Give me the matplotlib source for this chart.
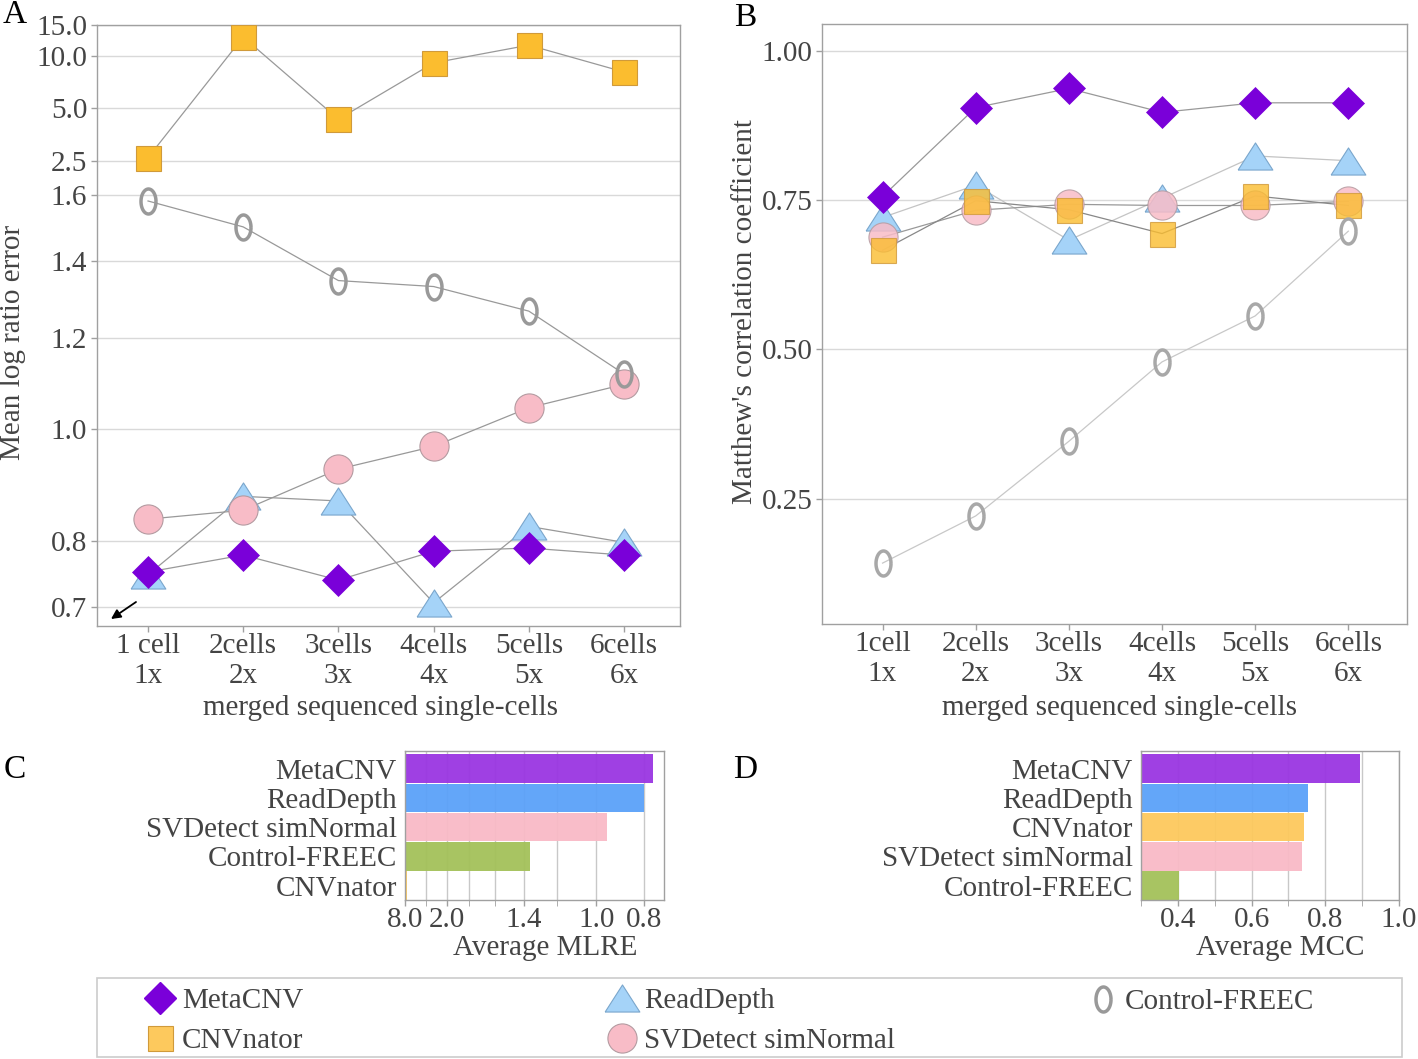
import numpy as np
import matplotlib
matplotlib.use('Agg')
import matplotlib.pyplot as plt
from matplotlib.lines import Line2D
from matplotlib.patches import Rectangle

plt.rcParams['font.family'] = ['Liberation Serif', 'DejaVu Serif']

# ---------------- data ----------------
merges = [1, 2, 3, 4, 5, 6]
labels_A = ['1 cell\n1x', '2cells\n2x', '3cells\n3x', '4cells\n4x', '5cells\n5x', '6cells\n6x']
labels_B = ['1cell\n1x', '2cells\n2x', '3cells\n3x', '4cells\n4x', '5cells\n5x', '6cells\n6x']

mlre_metacnv = [0.751, 0.777, 0.739, 0.783, 0.788, 0.777]
mlre_readdepth = [0.747, 0.874, 0.866, 0.706, 0.823, 0.797]
mlre_svdetect = [0.835, 0.850, 0.923, 0.966, 1.044, 1.094]
mlre_freec = [1.58, 1.50, 1.347, 1.331, 1.267, 1.117]
mlre_cnvnator = [2.61, 12.8, 4.33, 9.1, 11.5, 8.07]

mcc_metacnv = [0.756, 0.905, 0.937, 0.897, 0.913, 0.913]
mcc_readdepth = [0.721, 0.775, 0.683, 0.753, 0.824, 0.816]
mcc_svdetect = [0.688, 0.733, 0.743, 0.741, 0.741, 0.748]
mcc_cnvnator = [0.666, 0.749, 0.734, 0.694, 0.757, 0.741]
mcc_freec = [0.142, 0.221, 0.346, 0.479, 0.556, 0.698]

avg_mlre_tools = ['MetaCNV', 'ReadDepth', 'SVDetect simNormal', 'Control-FREEC', 'CNVnator']
avg_mlre = [0.768, 0.800, 0.951, 1.36, 7.5]
avg_mcc_tools = ['MetaCNV', 'ReadDepth', 'CNVnator', 'SVDetect simNormal', 'Control-FREEC']
avg_mcc = [0.894, 0.752, 0.742, 0.738, 0.404]

yticks_A = [0.7, 0.8, 1.0, 1.2, 1.4, 1.6, 2.5, 5.0, 10.0, 15.0]
yticks_B = [0.25, 0.50, 0.75, 1.00]
xticks_C = [8.0, 2.0, 1.4, 1.0, 0.8]
xminor_C = [4.0, 1.8, 1.6, 1.2]
xticks_D = [0.4, 0.6, 0.8, 1.0]
xminor_D = [0.3, 0.5, 0.7, 0.9]

# ---------------- styles ----------------
C_META = '#7a00d9'
C_RD = '#a5d3f8'
C_RD_E = '#7aa6cc'
C_SV = '#f8bcc7'
C_SV_E = '#b49ba1'
C_CNV = '#fbbd2f'
C_CNV_E = '#d09a3a'
C_FREEC = '#999999'
BAR_COLORS = {'MetaCNV': '#9a35e2', 'ReadDepth': '#5ba1f9', 'SVDetect simNormal': '#f9bac6',
              'Control-FREEC': '#a3c159', 'CNVnator': '#fdc95d'}
TXT = '#444444'
GRID = '#d9d9d9'
SPINE = '#a0a0a0'
FS = 21

tri = [(-1, -0.78), (1, -0.78), (0, 0.78), (-1, -0.78)]
_th = np.linspace(0, 2 * np.pi, 60)
zero = list(zip(0.6 * np.cos(_th), np.sin(_th)))
ZKW = dict(ls='none', marker=zero, ms=18, mfc='none', mew=2.5)

W, H = 1418, 1059
fig = plt.figure(figsize=(W / 100, H / 100), dpi=100)


def ax_px(l, t, r, b):
    return fig.add_axes([l / W, 1 - b / H, (r - l) / W, (b - t) / H])


def piecewise_log(brk, lo, hi):
    def fwd(v):
        v = np.maximum(np.asarray(v, dtype=float), 1e-6)
        r = np.log(v / brk)
        return np.where(r <= 0, lo * r, hi * r)

    def inv(t):
        t = np.asarray(t, dtype=float)
        return brk * np.exp(np.where(t <= 0, t / lo, t / hi))
    return fwd, inv


def style_axes(ax):
    for s in ax.spines.values():
        s.set_color(SPINE)
        s.set_linewidth(1.0)
    ax.tick_params(colors=SPINE, labelcolor=TXT, labelsize=FS, length=4, width=1, pad=3)


# ---------------- Panel A ----------------
axA = ax_px(97, 25, 680, 626)
fA, iA = piecewise_log(1.6, 500.0, 76.0)
axA.set_yscale('function', functions=(fA, iA))
axA.set_ylim(0.674, 15.0)
axA.set_xlim(0.464, 6.588)
axA.set_yticks(yticks_A)
axA.set_yticklabels(['%.1f' % v for v in yticks_A])
axA.yaxis.set_minor_locator(matplotlib.ticker.NullLocator())
axA.set_xticks(merges)
axA.set_xticklabels(labels_A, linespacing=1.2)
axA.grid(axis='y', color=GRID, lw=1.0)
axA.set_axisbelow(True)
style_axes(axA)
axA.tick_params(axis='x', pad=1)

lkw = dict(color='#999999', lw=0.9, zorder=2)
axA.plot(merges, mlre_readdepth, **lkw)
axA.plot(merges, mlre_svdetect, **lkw)
axA.plot(merges, mlre_metacnv, **lkw)
axA.plot(merges, mlre_cnvnator, **lkw)
axA.plot(merges, mlre_freec, **lkw)
axA.plot(merges, mlre_readdepth, ls='none', marker=tri, ms=25, mfc=C_RD, mec=C_RD_E, mew=0.8, zorder=3)
axA.plot(merges, mlre_svdetect, ls='none', marker='o', ms=21, mfc=C_SV, mec=C_SV_E, mew=0.8, zorder=4)
axA.plot(merges, mlre_metacnv, ls='none', marker='D', ms=16.5, mfc=C_META, mec=C_META, mew=0.5, zorder=5)
axA.plot(merges, mlre_cnvnator, ls='none', marker='s', ms=18, mfc=C_CNV, mec=C_CNV_E, mew=0.8, zorder=5)
axA.plot(merges, mlre_freec, mec=C_FREEC, zorder=6, **ZKW)

axA.set_ylabel('Mean log ratio error', fontsize=FS, color=TXT)
axA.yaxis.set_label_coords(-0.144, 0.471)
axA.yaxis.label.set_va('center')
axA.set_xlabel('merged sequenced single-cells', fontsize=FS, color=TXT)
axA.xaxis.set_label_coords(0.487, -0.137)
axA.xaxis.label.set_va('center')

# ---------------- Panel B ----------------
axB = ax_px(822, 24, 1407, 624)
axB.set_ylim(0.04, 1.045)
axB.set_xlim(0.35, 6.63)
axB.set_yticks(yticks_B)
axB.set_yticklabels(['%.2f' % v for v in yticks_B])
axB.set_xticks(merges)
axB.set_xticklabels(labels_B, linespacing=1.2)
axB.grid(axis='y', color=GRID, lw=1.0)
axB.set_axisbelow(True)
style_axes(axB)
axB.tick_params(axis='x', pad=1)

axB.plot(merges, mcc_readdepth, color='#c4c4c4', lw=0.9, zorder=2)
axB.plot(merges, mcc_svdetect, color='#999999', lw=0.9, zorder=2)
axB.plot(merges, mcc_metacnv, color='#999999', lw=0.9, zorder=2)
axB.plot(merges, mcc_cnvnator, color='#888888', lw=0.9, zorder=2)
axB.plot(merges, mcc_freec, color='#c8c8c8', lw=0.9, zorder=2)
axB.plot(merges, mcc_readdepth, ls='none', marker=tri, ms=25, mfc=C_RD, mec=C_RD_E, mew=0.8, zorder=3)
axB.plot(merges, mcc_svdetect, ls='none', marker='o', ms=21, mfc=C_SV, mec=C_SV_E, mew=0.8, alpha=0.85, zorder=4)
axB.plot(merges, mcc_cnvnator, ls='none', marker='s', ms=18, mfc=C_CNV, mec=C_CNV_E, mew=0.8, alpha=0.8, zorder=5)
axB.plot(merges, mcc_metacnv, ls='none', marker='D', ms=16.5, mfc=C_META, mec=C_META, mew=0.5, zorder=5)
axB.plot(merges, mcc_freec, mec='#a8a8a8', zorder=6, **ZKW)

axB.set_ylabel("Matthew's correlation coefficient", fontsize=FS, color=TXT)
axB.yaxis.set_label_coords(-0.132, 0.52)
axB.yaxis.label.set_va('center')
axB.set_xlabel('merged sequenced single-cells', fontsize=FS, color=TXT)
axB.xaxis.set_label_coords(0.509, -0.14)
axB.xaxis.label.set_va('center')

# ---------------- Panel C ----------------
axC = ax_px(405, 751, 664, 900)
fC, iC = piecewise_log(2.0, 215.0, 30.0)
axC.set_xscale('function', functions=(fC, iC))
c_left, c_right = 8.0, 0.73
axC.set_xlim(c_left, c_right)
ypos_C = np.arange(len(avg_mlre_tools))
axC.barh(ypos_C, np.array(avg_mlre) - c_left, left=c_left, height=0.97,
         color=[BAR_COLORS[t] for t in avg_mlre_tools], alpha=0.95, zorder=2)
axC.set_ylim(4.49, -0.6)
axC.set_yticks(ypos_C)
axC.set_yticklabels(avg_mlre_tools)
axC.set_xticks(xticks_C)
axC.set_xticklabels(['%.1f' % v for v in xticks_C])
axC.set_xticks(xminor_C, minor=True)
axC.grid(axis='x', which='both', color='#c8c8c8', lw=1.0, zorder=3)
style_axes(axC)
axC.tick_params(axis='y', length=0, pad=6)
axC.tick_params(axis='x', which='both', length=4, color=SPINE, pad=1)
axC.set_xlabel('Average MLRE', fontsize=FS, color=TXT)
axC.xaxis.set_label_coords(0.54, -0.325)
axC.xaxis.label.set_va('center')

# ---------------- Panel D ----------------
axD = ax_px(1141, 751, 1399, 900)
d_left = 0.3
axD.set_xlim(d_left, 1.0)
ypos_D = np.arange(len(avg_mcc_tools))
axD.barh(ypos_D, np.array(avg_mcc) - d_left, left=d_left, height=0.97,
         color=[BAR_COLORS[t] for t in avg_mcc_tools], alpha=0.95, zorder=2)
axD.set_ylim(4.49, -0.6)
axD.set_yticks(ypos_D)
axD.set_yticklabels(avg_mcc_tools)
axD.set_xticks(xticks_D)
axD.set_xticklabels(['%.1f' % v for v in xticks_D])
axD.set_xticks(xminor_D, minor=True)
axD.grid(axis='x', which='both', color='#c8c8c8', lw=1.0, zorder=3)
style_axes(axD)
axD.tick_params(axis='y', length=0, pad=6)
axD.tick_params(axis='x', which='both', length=4, color=SPINE, pad=1)
axD.set_xlabel('Average MCC', fontsize=FS, color=TXT)
axD.xaxis.set_label_coords(0.54, -0.325)
axD.xaxis.label.set_va('center')

# ---------------- panel letters ----------------
for lab, (px, py) in {'A': (15, 15), 'B': (745, 18), 'C': (15, 770), 'D': (745, 770)}.items():
    fig.text(px / W, 1 - py / H, lab, fontsize=24, color='black', ha='center', va='center')

# ---------------- arrows ----------------
def fig_arrow(x0, y0, x1, y1):
    axA.annotate('', xy=(x1 / W, 1 - y1 / H), xytext=(x0 / W, 1 - y0 / H),
                 xycoords='figure fraction', textcoords='figure fraction',
                 arrowprops=dict(arrowstyle='-|>', color='black', lw=1.3,
                                 mutation_scale=14, shrinkA=0, shrinkB=0),
                 annotation_clip=False)

fig_arrow(136, 602, 111, 619)
fig_arrow(853, 80, 826, 57)

# ---------------- legend ----------------
h_meta = Line2D([], [], ls='none', marker='D', ms=16.5, mfc=C_META, mec=C_META)
h_cnv = Line2D([], [], ls='none', marker='s', ms=18, mfc='#fdc95d', mec=C_CNV_E, mew=0.8)
h_rd = Line2D([], [], ls='none', marker=tri, ms=25, mfc=C_RD, mec=C_RD_E, mew=0.8)
h_sv = Line2D([], [], ls='none', marker='o', ms=21, mfc=C_SV, mec=C_SV_E, mew=0.8)
h_fr = Line2D([], [], mec=C_FREEC, **ZKW)

fig.patches.append(Rectangle((97 / W, 1 - 1057 / H), 1305 / W, 79 / H, transform=fig.transFigure,
                             fill=False, edgecolor='#cccccc', lw=1.2))
LKW = dict(frameon=False, fontsize=FS, handletextpad=0.2, handlelength=1.1,
           labelspacing=0.45, borderpad=0.0, borderaxespad=0, loc='center left')
legs = [
    fig.legend([h_meta, h_cnv], ['MetaCNV', 'CNVnator'], bbox_to_anchor=(144 / W, 1 - 1021 / H), **LKW),
    fig.legend([h_rd, h_sv], ['ReadDepth', 'SVDetect simNormal'], bbox_to_anchor=(606 / W, 1 - 1021 / H), **LKW),
    fig.legend([h_fr], ['Control-FREEC'], bbox_to_anchor=(1087 / W, 1 - 1002 / H), **LKW),
]
for lg in legs:
    for t in lg.get_texts():
        t.set_color(TXT)

fig.savefig('out.png', dpi=100)
